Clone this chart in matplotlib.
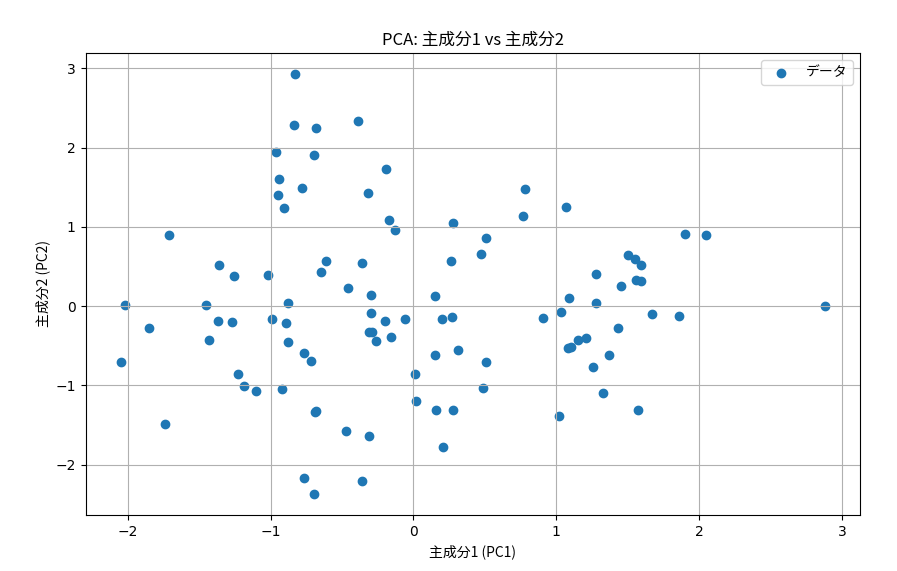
import matplotlib
matplotlib.use("Agg")
import matplotlib.pyplot as plt
import numpy as np

# 目盛はDejaVu Sans、日本語テキストはCJKフォント
plt.rcParams["font.family"] = ["DejaVu Sans"]
plt.rcParams["axes.unicode_minus"] = True
JP_FONT = ["Noto Sans CJK JP", "DejaVu Sans"]

# 主成分得点 (PC1, PC2)
pc1 = [-2.05, -2.02, -1.85, -1.71, -1.74, -1.45, -1.43, -1.36, -1.37, -1.26,
       -1.27, -1.23, -1.19, -1.10, -1.02, -0.99, -0.96, -0.94, -0.95, -0.91,
       -0.92, -0.88, -0.89, -0.88, -0.83, -0.84, -0.78, -0.77, -0.77, -0.72,
       -0.70, -0.68, -0.70, -0.69, -0.68, -0.65, -0.61, -0.47, -0.46, -0.39,
       -0.36, -0.36, -0.32, -0.31, -0.31, -0.30, -0.29, -0.30, -0.26, -0.20,
       -0.19, -0.17, -0.16, -0.13, -0.06, 0.01, 0.02, 0.15, 0.15, 0.16,
       0.20, 0.21, 0.27, 0.26, 0.28, 0.28, 0.31, 0.47, 0.49, 0.51,
       0.51, 0.77, 0.78, 0.91, 1.02, 1.03, 1.07, 1.08, 1.10, 1.09,
       1.15, 1.21, 1.26, 1.28, 1.28, 1.33, 1.37, 1.43, 1.45, 1.50,
       1.55, 1.56, 1.59, 1.59, 1.57, 1.67, 1.86, 1.90, 2.05, 2.88]
pc2 = [-0.70, 0.01, -0.28, 0.90, -1.49, 0.01, -0.43, 0.52, -0.19, 0.38,
       -0.20, -0.85, -1.01, -1.07, 0.39, -0.16, 1.95, 1.60, 1.40, 1.24,
       -1.04, 0.04, -0.21, -0.45, 2.93, 2.29, 1.49, -0.59, -2.17, -0.69,
       1.91, 2.25, -2.37, -1.34, -1.32, 0.43, 0.57, -1.57, 0.23, 2.34,
       0.54, -2.21, 1.43, -1.64, -0.33, 0.14, -0.32, -0.09, -0.44, -0.19,
       1.73, 1.09, -0.39, 0.96, -0.16, -0.86, -1.20, -0.62, 0.13, -1.31,
       -0.16, -1.78, -0.14, 0.57, -1.31, 1.05, -0.55, 0.66, -1.03, 0.86,
       -0.70, 1.14, 1.48, -0.15, -1.38, -0.07, 1.25, -0.53, -0.52, 0.10,
       -0.43, -0.40, -0.77, 0.41, 0.04, -1.10, -0.61, -0.28, 0.26, 0.64,
       0.60, 0.33, 0.52, 0.32, -1.31, -0.10, -0.13, 0.91, 0.90, 0.00]

fig = plt.figure(figsize=(8.97, 5.71), dpi=100)
ax = fig.add_axes([85.5 / 897, 56 / 571, 774.5 / 897, 462 / 571])

ax.scatter(pc1, pc2, color="#1f77b4", s=36, label="データ")
ax.set_xlabel("主成分1 (PC1)", family=JP_FONT)
ax.set_ylabel("主成分2 (PC2)", family=JP_FONT)
ax.set_title("PCA: 主成分1 vs 主成分2", family=JP_FONT)
ax.legend(loc="upper right", prop={"family": JP_FONT})
ax.grid(True)

plt.savefig("out.png", dpi=100)
plt.close(fig)
